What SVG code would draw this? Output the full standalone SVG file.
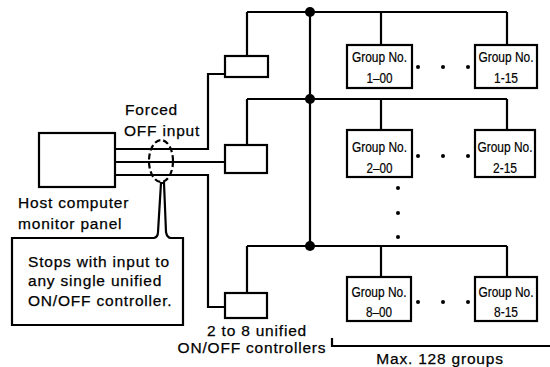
<svg xmlns="http://www.w3.org/2000/svg" width="550" height="367" viewBox="0 0 550 367">
<style>
.ln{fill:none;stroke:#000;stroke-width:2.2;stroke-linejoin:miter}
.box{fill:#fff;stroke:#000;stroke-width:2.2}
.lbl{font-family:"Liberation Sans",Arial,sans-serif;font-size:15.5px;letter-spacing:0.8px;fill:#000;stroke:#000;stroke-width:0.25}
.grp{font-family:"Liberation Sans",Arial,sans-serif;font-size:14px;fill:#000;stroke:#000;stroke-width:0.2}
.dot{fill:#000}
</style>
<rect width="550" height="367" fill="#fff"/>
<g id="connectors">
  <path class="ln" d="M247,12 H507 M247,12 V56 M381,12 V45 M507,12 V45"/>
  <path class="ln" d="M247,99 H507 M247,99 V145 M381,99 V130 M507,99 V130"/>
  <path class="ln" d="M247,246 H507 M247,246 V293 M381,246 V277 M507,246 V277"/>
  <path class="ln" d="M310,12 V246"/>
  <circle class="dot" cx="310" cy="12" r="5"/>
  <circle class="dot" cx="310" cy="99" r="5"/>
  <circle class="dot" cx="310" cy="246" r="5"/>
  <path class="ln" d="M115,149 H208 V74 H225"/>
  <path class="ln" d="M115,162 H225" stroke-width="3.5"/>
  <path class="ln" d="M115,175 H208 V307 H225"/>
  <ellipse cx="161" cy="161" rx="12" ry="21" fill="none" stroke="#000" stroke-width="2.2" stroke-dasharray="6 3"/>
  <path class="ln" d="M332,338 V346 H550"/>
</g>
<g id="host">
  <rect class="box" x="39" y="133" width="76" height="54"/>
  <text class="lbl" x="18" y="208">Host computer</text>
  <text class="lbl" x="18" y="229">monitor panel</text>
</g>
<g id="forced-label">
  <text class="lbl" x="125" y="115">Forced</text>
  <text class="lbl" x="124" y="136">OFF input</text>
</g>
<g id="callout">
  <path class="box" d="M12,238 H154 Q158,237 158,232 L161,183 L164,183 L166,232 Q167,238 171,238 H183 V325 H12 Z"/>
  <text class="lbl" x="28" y="267">Stops with input to</text>
  <text class="lbl" x="28" y="286">any single unified</text>
  <text class="lbl" x="28" y="306">ON/OFF controller.</text>
</g>
<g id="ctrl1"><rect class="box" x="225" y="56" width="43" height="21"/></g>
<g id="ctrl2"><rect class="box" x="225" y="145" width="42" height="28"/></g>
<g id="ctrl3"><rect class="box" x="225" y="293" width="42" height="25"/></g>
<g id="ctrl-label">
  <text class="lbl" x="257" y="336" text-anchor="middle">2 to 8 unified</text>
  <text class="lbl" x="252" y="353" text-anchor="middle">ON/OFF controllers</text>
</g>
<g id="g1-00">
  <rect class="box" x="347" y="45" width="65" height="43"/>
  <text class="grp" x="379.5" y="62" text-anchor="middle" textLength="55" lengthAdjust="spacingAndGlyphs">Group No.</text>
  <text class="grp" x="379.5" y="83" text-anchor="middle" textLength="26" lengthAdjust="spacingAndGlyphs">1–00</text>
</g>
<g id="g1-15">
  <rect class="box" x="475" y="45" width="62" height="43"/>
  <text class="grp" x="506" y="62" text-anchor="middle" textLength="55" lengthAdjust="spacingAndGlyphs">Group No.</text>
  <text class="grp" x="506" y="83" text-anchor="middle" textLength="24" lengthAdjust="spacingAndGlyphs">1-15</text>
</g>
<g id="g2-00">
  <rect class="box" x="347" y="130" width="65" height="47"/>
  <text class="grp" x="379.5" y="152" text-anchor="middle" textLength="55" lengthAdjust="spacingAndGlyphs">Group No.</text>
  <text class="grp" x="379.5" y="173" text-anchor="middle" textLength="26" lengthAdjust="spacingAndGlyphs">2–00</text>
</g>
<g id="g2-15">
  <rect class="box" x="475" y="130" width="60" height="47"/>
  <text class="grp" x="505" y="152" text-anchor="middle" textLength="55" lengthAdjust="spacingAndGlyphs">Group No.</text>
  <text class="grp" x="505" y="173" text-anchor="middle" textLength="24" lengthAdjust="spacingAndGlyphs">2-15</text>
</g>
<g id="g8-00">
  <rect class="box" x="347" y="277" width="64" height="44"/>
  <text class="grp" x="379" y="297" text-anchor="middle" textLength="55" lengthAdjust="spacingAndGlyphs">Group No.</text>
  <text class="grp" x="379" y="317" text-anchor="middle" textLength="26" lengthAdjust="spacingAndGlyphs">8–00</text>
</g>
<g id="g8-15">
  <rect class="box" x="475" y="277" width="62" height="44"/>
  <text class="grp" x="506" y="297" text-anchor="middle" textLength="55" lengthAdjust="spacingAndGlyphs">Group No.</text>
  <text class="grp" x="506" y="317" text-anchor="middle" textLength="24" lengthAdjust="spacingAndGlyphs">8-15</text>
</g>
<g id="ellipsis-dots">
  <circle class="dot" cx="418" cy="67" r="2"/><circle class="dot" cx="443" cy="67" r="2"/><circle class="dot" cx="468" cy="67" r="2"/>
  <circle class="dot" cx="418" cy="156" r="2"/><circle class="dot" cx="443" cy="156" r="2"/><circle class="dot" cx="468" cy="156" r="2"/>
  <circle class="dot" cx="418" cy="302" r="2"/><circle class="dot" cx="443" cy="302" r="2"/><circle class="dot" cx="468" cy="302" r="2"/>
  <circle class="dot" cx="398" cy="188" r="2"/><circle class="dot" cx="398" cy="213" r="2"/><circle class="dot" cx="398" cy="237" r="2"/>
</g>
<g id="max-label">
  <text class="lbl" x="440" y="364" text-anchor="middle">Max. 128 groups</text>
</g>
</svg>
